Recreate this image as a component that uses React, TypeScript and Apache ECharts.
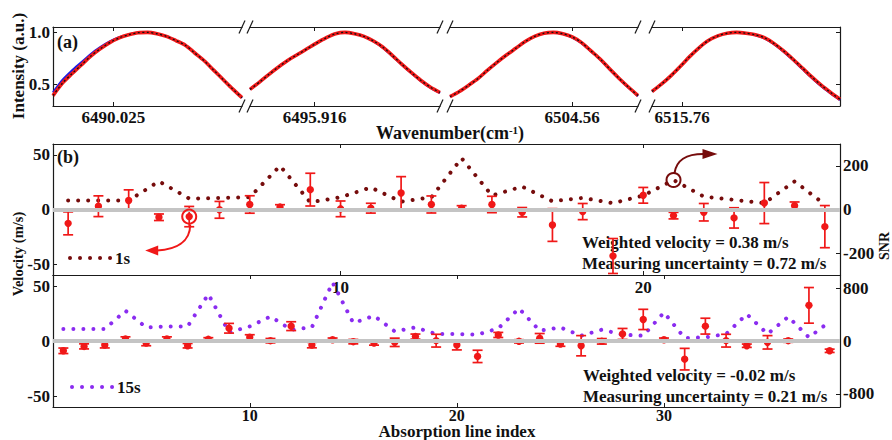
import React, { useEffect, useRef } from 'react';
import * as echarts from 'echarts';

const FONT = 'Liberation Serif, Times New Roman, Times, serif';
const RED = '#f01818';
const DARK_RED = '#760c0c';
const PURPLE = '#8a2cf0';
const BLUE = '#1c1ce6';
const AXIS = '#1a1a1a';
const TEXT = '#111111';

// ---------- Panel (a): four spectral segments ----------
const segTickValues = [6490.025, 6495.916, 6504.56, 6515.76];
const segTickLabels = ['6490.025', '6495.916', '6504.56', '6515.76'];
const segMin = [6489.993, 6495.882, 6504.495, 6515.744];
const segMax = [6490.093, 6495.982, 6504.595, 6515.844];

const segWn1 = [6489.993, 6489.998, 6490.003, 6490.008, 6490.013, 6490.018, 6490.023, 6490.028, 6490.033, 6490.038, 6490.043, 6490.048, 6490.053, 6490.058, 6490.063, 6490.068, 6490.073, 6490.078, 6490.083, 6490.088, 6490.093];
const segWn2 = [6495.882, 6495.887, 6495.892, 6495.897, 6495.902, 6495.907, 6495.912, 6495.917, 6495.922, 6495.927, 6495.932, 6495.937, 6495.942, 6495.947, 6495.952, 6495.957, 6495.962, 6495.967, 6495.972, 6495.977, 6495.982];
const segWn3 = [6504.495, 6504.5, 6504.505, 6504.51, 6504.515, 6504.52, 6504.525, 6504.53, 6504.535, 6504.54, 6504.545, 6504.55, 6504.555, 6504.56, 6504.565, 6504.57, 6504.575, 6504.58, 6504.585, 6504.59, 6504.595];
const segWn4 = [6515.744, 6515.749, 6515.754, 6515.759, 6515.764, 6515.769, 6515.774, 6515.779, 6515.784, 6515.789, 6515.794, 6515.799, 6515.804, 6515.809, 6515.814, 6515.819, 6515.824, 6515.829, 6515.834, 6515.839, 6515.844];

const segMeas1 = [0.42, 0.54, 0.63, 0.71, 0.79, 0.855, 0.91, 0.95, 0.977, 0.995, 0.998, 0.985, 0.96, 0.92, 0.875, 0.8, 0.725, 0.635, 0.545, 0.455, 0.37];
const segFit1 = [0.39, 0.51, 0.6, 0.685, 0.77, 0.84, 0.9, 0.945, 0.975, 0.995, 0.998, 0.985, 0.96, 0.92, 0.875, 0.8, 0.725, 0.635, 0.545, 0.455, 0.37];
const segMeas2 = [0.45, 0.52, 0.595, 0.665, 0.73, 0.785, 0.84, 0.895, 0.945, 0.985, 0.998, 0.985, 0.958, 0.912, 0.85, 0.77, 0.685, 0.605, 0.53, 0.465, 0.415];
const segFit2 = [0.45, 0.52, 0.595, 0.665, 0.73, 0.785, 0.84, 0.895, 0.945, 0.985, 0.998, 0.985, 0.96, 0.915, 0.855, 0.775, 0.69, 0.61, 0.535, 0.47, 0.42];
const segMeas3 = [0.38, 0.43, 0.49, 0.555, 0.635, 0.71, 0.78, 0.845, 0.91, 0.96, 0.99, 0.998, 0.983, 0.95, 0.895, 0.815, 0.735, 0.64, 0.55, 0.465, 0.385];
const segFit3 = [0.38, 0.43, 0.49, 0.555, 0.635, 0.71, 0.78, 0.845, 0.91, 0.96, 0.99, 0.998, 0.985, 0.955, 0.9, 0.82, 0.74, 0.645, 0.555, 0.47, 0.39];
const segMeas4 = [0.43, 0.5, 0.58, 0.67, 0.765, 0.85, 0.92, 0.965, 0.99, 0.998, 0.99, 0.972, 0.94, 0.884, 0.813, 0.732, 0.646, 0.561, 0.481, 0.411, 0.347];
const segFit4 = [0.43, 0.5, 0.58, 0.67, 0.765, 0.85, 0.92, 0.965, 0.99, 0.998, 0.99, 0.975, 0.945, 0.89, 0.82, 0.74, 0.655, 0.57, 0.49, 0.42, 0.355];

const intensityTicks = [0.5, 1.0];

// ---------- Panel (b): velocity & SNR per absorption line ----------
const vel1s = [-12.7, 3, 8.3, -7.1, -6.5, -0.3, 4.6, 2.2, 18.2, 0.6, 1.2, 15.1, 4.6, 1.2, 4.6, -2.5, -14.2, -1.9, -42.6, 13, -5.6, -2.5, -7.7, 5.9, 3.4, -15.7];
const err1s = [10.5, 9.5, 9.7, 3, 9.3, 7.7, 8, 2.2, 15, 7.2, 4.5, 15, 7.8, 2.3, 7.5, 4.3, 15, 7.4, 16, 7.2, 3, 8, 9.3, 18.8, 3.5, 19.3];
const snr1s = [41, 41, 41, 129, 50, 53, 56, 200, 33, 56, 101, 36, 56, 235, 64, 105, 38, 53, 29, 64, 135, 59, 44, 29, 129, 23];

const vel15s = [-8.9, -4.9, -3.7, 1.8, -1.8, 1.8, -4.3, 1.5, 11.6, 3.4, 0.3, 13.5, -3.7, 1.2, -0.6, -1.8, -1.2, 4, 0.3, -3.7, -14, 5.5, -0.3, 2.4, -2.8, -4.3, -0.3, 6.4, 19.6, 1.2, -16.5, 13.5, 0.3, -4.3, -1.2, 0.3, 32.4, -8.9];
const err15s = [2.5, 2.3, 2.6, 2, 2.5, 2, 2, 1.5, 4.4, 2.3, 2, 4, 2.5, 1.5, 2, 2, 3.8, 2.3, 5.8, 4.4, 5.6, 2.3, 1.5, 4.4, 2, 9.2, 2.5, 5, 9.2, 1.5, 9.8, 7.2, 5.8, 1.5, 6.1, 1.5, 16.2, 1.5];
const snr15s = [181, 181, 181, 458, 206, 221, 221, 709, 131, 221, 372, 171, 206, 886, 272, 382, 146, 206, 106, 106, 96, 191, 493, 156, 206, 80, 171, 96, 80, 433, 45, 55, 106, 408, 106, 367, 55, 292];

const indexTicks1s = [10, 20];
const indexTicks15s = [10, 20, 30];
const velocityTicks = [-50, 0, 50];
const snrTicks1s = [-200, 0, 200];
const snrTicks15s = [-800, 0, 800];

const annot1s = ['Weighted velocity = 0.38 m/s', 'Measuring uncertainty = 0.72 m/s'];
const annot15s = ['Weighted velocity = -0.02 m/s', 'Measuring uncertainty = 0.21 m/s'];

// ---------- layout ----------
const A_TOP = 27;
const A_H = 79;
const segLefts = [53, 250, 450, 652];
const segWidths = [189, 190, 188, 188];
const B_LEFT = 53;
const B_W = 787;
const B1_TOP = 144;
const B1_H = 131;
const B2_TOP = 275;
const B2_H = 132;

const labelFont = { fontFamily: FONT, fontWeight: 'bold', fontSize: 17, color: TEXT };
const axisLineStyle = { color: AXIS, width: 1.2 };

function aX(k: number, pos: 'bottom' | 'top') {
  return {
    type: 'value', gridIndex: k, position: pos, min: segMin[k], max: segMax[k],
    axisLine: { show: true, onZero: false, lineStyle: axisLineStyle },
    axisTick: { show: true, inside: true, length: 4, customValues: [segTickValues[k]], lineStyle: { color: AXIS } },
    axisLabel: { show: pos === 'bottom', customValues: [segTickValues[k]], margin: 3, formatter: () => segTickLabels[k], ...labelFont },
    splitLine: { show: false },
  };
}

function aY(k: number) {
  const isLeft = k === 0;
  const isRight = k === 3;
  return {
    type: 'value', gridIndex: k, position: isRight ? 'right' : 'left', min: 0.29, max: 1.05,
    show: isLeft || isRight,
    axisLine: { show: true, onZero: false, lineStyle: axisLineStyle },
    axisTick: { show: true, inside: true, length: 4, customValues: intensityTicks, lineStyle: { color: AXIS } },
    axisLabel: { show: isLeft, customValues: intensityTicks, margin: 3, formatter: (v: number) => v.toFixed(1), ...labelFont },
    splitLine: { show: false },
  };
}

function bX(grid: number, max: number, ticks: number[], pos: 'bottom' | 'top', margin: number, fontSize = 17) {
  return {
    type: 'value', gridIndex: grid, position: pos, min: 0.5, max,
    axisLine: { show: true, onZero: false, lineStyle: axisLineStyle },
    axisTick: { show: true, inside: true, length: 4, customValues: ticks, lineStyle: { color: AXIS } },
    axisLabel: { show: pos === 'bottom', customValues: ticks, margin, formatter: (v: number) => String(v), ...labelFont, fontSize },
    splitLine: { show: false },
  };
}

function bY(grid: number, min: number, max: number, ticks: number[], pos: 'left' | 'right') {
  return {
    type: 'value', gridIndex: grid, position: pos, min, max,
    axisLine: { show: true, onZero: false, lineStyle: axisLineStyle },
    axisTick: { show: true, inside: true, length: 4, customValues: ticks, lineStyle: { color: AXIS } },
    axisLabel: { show: true, customValues: ticks, margin: 3, formatter: (v: number) => String(v), ...labelFont },
    splitLine: { show: false },
  };
}

function errorBarRender(capHalf: number, radius: number) {
  return (_params: any, api: any) => {
    const x = api.value(0);
    const v = api.value(1);
    const e = api.value(2);
    const top = api.coord([x, v + e]);
    const bot = api.coord([x, v - e]);
    const mid = api.coord([x, v]);
    const st = { stroke: RED, lineWidth: 1.7, fill: 'none' };
    return {
      type: 'group',
      children: [
        { type: 'line', shape: { x1: top[0], y1: top[1], x2: bot[0], y2: bot[1] }, style: st },
        { type: 'line', shape: { x1: top[0] - capHalf, y1: top[1], x2: top[0] + capHalf, y2: top[1] }, style: st },
        { type: 'line', shape: { x1: bot[0] - capHalf, y1: bot[1], x2: bot[0] + capHalf, y2: bot[1] }, style: st },
        { type: 'circle', shape: { cx: mid[0], cy: mid[1], r: radius }, style: { fill: RED } },
      ],
    };
  };
}

function buildOption() {
  const segWn = [segWn1, segWn2, segWn3, segWn4];
  const segMeas = [segMeas1, segMeas2, segMeas3, segMeas4];
  const segFit = [segFit1, segFit2, segFit3, segFit4];

  const grids: any[] = segLefts.map((l, k) => ({ left: l, top: A_TOP, width: segWidths[k], height: A_H, containLabel: false, outerBoundsMode: 'none' }));
  grids.push({ left: B_LEFT, top: B1_TOP, width: B_W, height: B1_H, containLabel: false, outerBoundsMode: 'none' });
  grids.push({ left: B_LEFT, top: B2_TOP, width: B_W, height: B2_H, containLabel: false, outerBoundsMode: 'none' });

  const xAxes: any[] = [];
  for (let k = 0; k < 4; k++) {
    xAxes.push(aX(k, 'bottom'));
    xAxes.push(aX(k, 'top'));
  }
  xAxes.push(bX(4, vel1s.length + 0.5, indexTicks1s, 'bottom', 3.5)); // 8
  xAxes.push(bX(4, vel1s.length + 0.5, indexTicks1s, 'top', 3)); // 9
  xAxes.push(bX(5, vel15s.length + 0.5, indexTicks15s, 'bottom', 0, 16)); // 10
  xAxes.push(bX(5, vel15s.length + 0.5, indexTicks15s, 'top', 3)); // 11

  const yAxes: any[] = [aY(0), aY(1), aY(2), aY(3)];
  yAxes.push(bY(4, -60, 60, velocityTicks, 'left')); // 4
  yAxes.push(bY(4, -300, 300, snrTicks1s, 'right')); // 5
  yAxes.push(bY(5, -60, 60, velocityTicks, 'left')); // 6
  yAxes.push(bY(5, -1000, 1000, snrTicks15s, 'right')); // 7

  const series: any[] = [];
  for (let k = 0; k < 4; k++) {
    const common = { type: 'line', xAxisIndex: 2 * k, yAxisIndex: k, showSymbol: false, symbol: 'none', smooth: 0.3, silent: true };
    series.push({ ...common, z: 2, data: segWn[k].map((w, i) => [w, segMeas[k][i]]), lineStyle: { color: BLUE, width: 2.2 } });
    series.push({ ...common, z: 3, data: segWn[k].map((w, i) => [w, segFit[k][i]]), lineStyle: { color: RED, width: 3.6 } });
    series.push({ ...common, z: 4, data: segWn[k].map((w, i) => [w, segFit[k][i]]), lineStyle: { color: '#111', width: 1.3, type: [2, 2.5] } });
  }

  const zeroLine = (xi: number, yi: number) => ({
    type: 'line', xAxisIndex: xi, yAxisIndex: yi, data: [], z: 1, silent: true,
    markLine: {
      silent: true, symbol: 'none', label: { show: false }, animation: false,
      lineStyle: { color: '#c4c4c4', width: 4, type: 'solid' },
      data: [{ yAxis: 0 }],
    },
  });
  series.push(zeroLine(8, 4));
  series.push(zeroLine(10, 6));

  const dotted = (color: string) => ({ color, width: 4, type: [0.01, 10], cap: 'round' });
  series.push({ type: 'line', xAxisIndex: 8, yAxisIndex: 5, z: 2, showSymbol: false, symbol: 'none', silent: true, data: snr1s.map((s, i) => [i + 1, s]), lineStyle: dotted(DARK_RED) });
  series.push({ type: 'line', xAxisIndex: 10, yAxisIndex: 7, z: 2, showSymbol: false, symbol: 'none', silent: true, data: snr15s.map((s, i) => [i + 1, s]), lineStyle: dotted(PURPLE) });

  series.push({ type: 'custom', xAxisIndex: 8, yAxisIndex: 4, z: 3, silent: true, renderItem: errorBarRender(5, 3.7), encode: { x: 0, y: 1 }, data: vel1s.map((v, i) => [i + 1, v, err1s[i]]) });
  series.push({ type: 'custom', xAxisIndex: 10, yAxisIndex: 6, z: 3, silent: true, renderItem: errorBarRender(5, 3.7), encode: { x: 0, y: 1 }, data: vel15s.map((v, i) => [i + 1, v, err15s[i]]) });

  return {
    animation: false,
    backgroundColor: '#ffffff',
    grid: grids,
    xAxis: xAxes,
    yAxis: yAxes,
    series,
  };
}

function txt(x: number, y: number, text: string, size: number, align = 'left', extra: any = {}) {
  return {
    type: 'text', x, y, silent: true, ...extra,
    style: { text, fontFamily: FONT, fontWeight: 'bold', fontSize: size, fill: TEXT, align, verticalAlign: 'middle' },
  };
}

function buildGraphics(chart: any) {
  const g: any[] = [];
  // axis-break marks
  const edges = [
    segLefts[0] + segWidths[0], segLefts[1],
    segLefts[1] + segWidths[1], segLefts[2],
    segLefts[2] + segWidths[2], segLefts[3],
  ];
  for (const e of edges) {
    for (const yb of [A_TOP, A_TOP + A_H]) {
      g.push({ type: 'line', silent: true, z: 20, shape: { x1: e - 3, y1: yb + 6.5, x2: e + 3, y2: yb - 6.5 }, style: { stroke: AXIS, lineWidth: 1.2 } });
    }
  }
  // titles
  g.push(txt(18, 66, 'Intensity (a.u.)', 17, 'center', { rotation: Math.PI / 2 }));
  g.push({
    type: 'text', x: 450, y: 133, silent: true,
    style: {
      text: '{b|Wavenumber(cm}{s|-1}{b|)}', align: 'center', verticalAlign: 'middle', fill: TEXT,
      rich: {
        b: { fontFamily: FONT, fontWeight: 'bold', fontSize: 18, fill: TEXT },
        s: { fontFamily: FONT, fontWeight: 'bold', fontSize: 11, fill: TEXT, verticalAlign: 'top' },
      },
    },
  });
  g.push(txt(57, 42, '(a)', 18));
  g.push(txt(57, 157, '(b)', 18));
  g.push(txt(18, 254, 'Velocity (m/s)', 14.5, 'center', { rotation: Math.PI / 2 }));
  g.push(txt(884, 246, 'SNR', 14, 'center', { rotation: Math.PI / 2 }));
  g.push(txt(457, 431.5, 'Absorption line index', 17, 'center'));

  // annotations
  g.push(txt(582, 242, annot1s[0], 17));
  g.push(txt(582, 263, annot1s[1], 17));
  g.push(txt(583, 375, annot15s[0], 17));
  g.push(txt(583, 396, annot15s[1], 17));

  // legends
  g.push({ type: 'line', silent: true, shape: { x1: 70, y1: 258, x2: 111, y2: 258 }, style: { stroke: DARK_RED, lineWidth: 4, lineDash: [0.01, 10], lineCap: 'round' } });
  g.push(txt(115, 258, '1s', 17));
  g.push({ type: 'line', silent: true, shape: { x1: 72, y1: 387, x2: 113, y2: 387 }, style: { stroke: PURPLE, lineWidth: 4, lineDash: [0.01, 10], lineCap: 'round' } });
  g.push(txt(117, 387, '15s', 17));

  // highlighted points with arrows
  const p1 = chart.convertToPixel({ xAxisIndex: 8, yAxisIndex: 4 }, [5, vel1s[4]]);
  const p2 = chart.convertToPixel({ xAxisIndex: 8, yAxisIndex: 5 }, [21, snr1s[20]]);
  if (p1) {
    const [cx, cy] = p1;
    g.push({ type: 'circle', silent: true, z: 20, shape: { cx, cy, r: 7 }, style: { fill: 'none', stroke: RED, lineWidth: 2 } });
    g.push({ type: 'bezierCurve', silent: true, z: 20, shape: { x1: cx + 1, y1: cy + 8, cpx1: cx + 1, cpy1: cy + 26, cpx2: cx - 14, cpy2: cy + 33, x2: cx - 32, y2: cy + 34 }, style: { fill: 'none', stroke: RED, lineWidth: 2 } });
    g.push({ type: 'polygon', silent: true, z: 20, shape: { points: [[cx - 44, cy + 34], [cx - 31, cy + 29], [cx - 31, cy + 39]] }, style: { fill: RED } });
  }
  if (p2) {
    const [cx, cy] = p2;
    g.push({ type: 'circle', silent: true, z: 20, shape: { cx, cy, r: 7 }, style: { fill: 'none', stroke: DARK_RED, lineWidth: 2 } });
    g.push({ type: 'bezierCurve', silent: true, z: 20, shape: { x1: cx + 1, y1: cy - 7, cpx1: cx + 3, cpy1: cy - 20, cpx2: cx + 12, cpy2: cy - 26, x2: cx + 30, y2: cy - 26 }, style: { fill: 'none', stroke: DARK_RED, lineWidth: 2 } });
    g.push({ type: 'polygon', silent: true, z: 20, shape: { points: [[cx + 44, cy - 26], [cx + 29, cy - 31], [cx + 29, cy - 21]] }, style: { fill: DARK_RED } });
  }
  return g;
}

export default function App() {
  const ref = useRef<HTMLDivElement>(null);
  useEffect(() => {
    if (!ref.current) return;
    const chart = echarts.init(ref.current, null, { renderer: 'svg' });
    chart.setOption(buildOption() as any);
    chart.setOption({ graphic: buildGraphics(chart) } as any);
    return () => chart.dispose();
  }, []);
  return <div ref={ref} style={{ position: 'fixed', left: 0, top: 0, width: 892, height: 440, background: '#fff' }} />;
}
